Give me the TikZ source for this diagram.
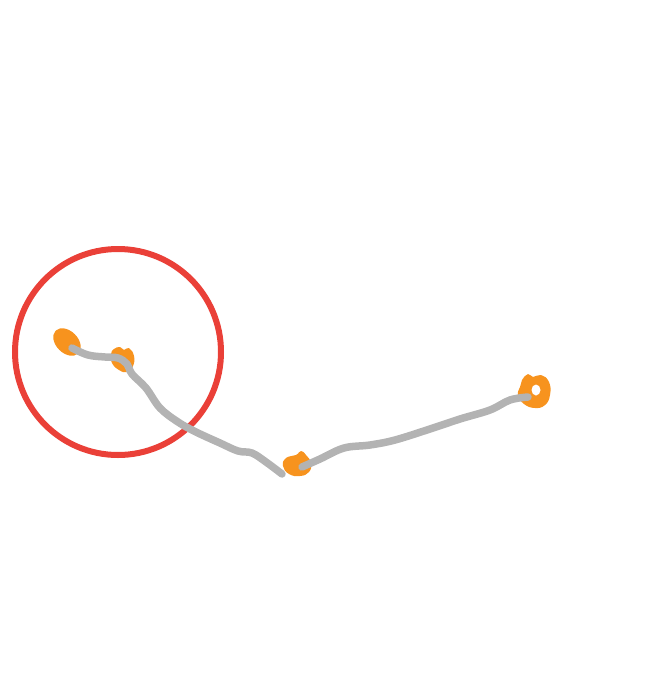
\documentclass[tikz,border=0pt]{standalone}
\usetikzlibrary{calc}
\definecolor{ringred}{HTML}{EA4038}
\definecolor{blobor}{HTML}{F7931E}
\definecolor{trail}{HTML}{B3B3B3}
\begin{document}
\begin{tikzpicture}[x=1pt,y=-1pt,
  trailline/.style={draw=trail,line width=7.5pt,line cap=round,line join=round},
  blob/.style={fill=blobor}]
\useasboundingbox (0,0) rectangle (645,697);
% red circle
\draw[ringred,line width=6pt] (118,352) circle (103);
% orange blobs
\fill[blobor,rotate around={-45:(67,342)}] (67,342) ellipse (16 and 11);
\fill[blobor] plot[smooth cycle,tension=0.8] coordinates {(114,349) (120,347) (124,350) (129,348) (134,356) (133,366) (127,372) (119,370) (112,363) (111,354)};
\fill[blobor] plot[smooth cycle,tension=0.8] coordinates {(286,458) (296,455) (301,451) (306,455) (311,463) (309,472) (300,476) (289,474) (283,466)};
\fill[blobor] plot[smooth cycle,tension=0.8] coordinates {(522,380) (528,374) (533,377) (541,375) (549,382) (550,395) (545,405) (535,408) (524,404) (518,395) (520,387)};
\fill[white] (536,390) ellipse (4.5 and 5.5);
% gray trails
\draw[trailline] plot[smooth,tension=0.6] coordinates {(72,348) (88,355) (105,357) (118,358) (127,364) (132,374) (146,388) (160,408) (178,422) (196,432) (220,443) (238,451) (252,453) (266,462) (282,474)};
\draw[trailline] plot[smooth,tension=0.6] coordinates {(302,467) (320,459) (344,448) (370,445) (395,440) (430,429) (460,419) (490,410) (510,400) (528,397)};
\end{tikzpicture}
\end{document}
